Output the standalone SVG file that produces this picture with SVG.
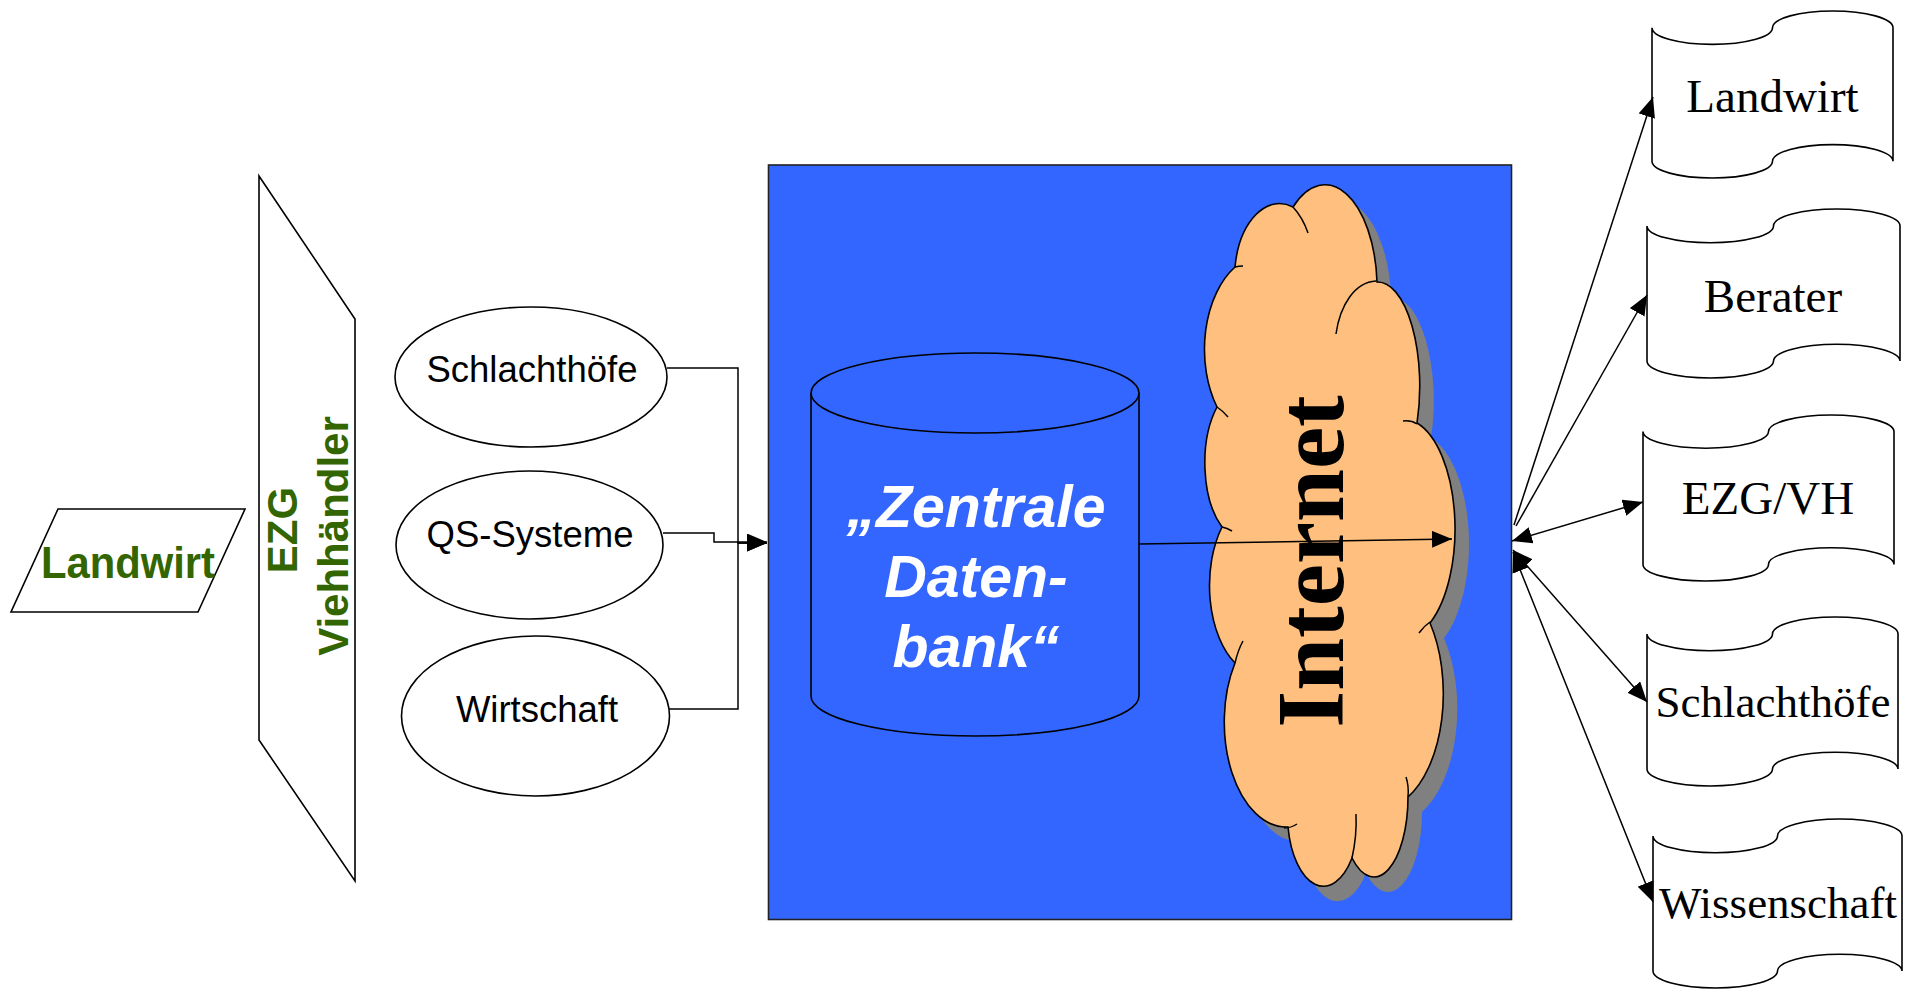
<svg xmlns="http://www.w3.org/2000/svg" width="1905" height="989" viewBox="0 0 1905 989">
<defs>
<style>
.ln{fill:none;stroke:#000;stroke-width:1.5}
.shape{fill:#fff;stroke:#000;stroke-width:1.6}
.green{font-family:"Liberation Sans",Arial,sans-serif;font-weight:bold;fill:#336600}
.sans{font-family:"Liberation Sans",Arial,sans-serif;font-size:36.5px;fill:#000;text-anchor:middle}
.serif{font-family:"Liberation Serif","Times New Roman",serif;fill:#000;text-anchor:middle}
.db{font-family:"Liberation Sans",Arial,sans-serif;font-weight:bold;font-style:italic;font-size:59px;fill:#fff;text-anchor:middle}
.hook{fill:none;stroke:#000;stroke-width:1.5}
</style>
<marker id="arr" markerUnits="userSpaceOnUse" viewBox="0 0 20 17" markerWidth="20" markerHeight="17" refX="20" refY="8.5" orient="auto-start-reverse">
<path d="M0,0 L20,8.5 L0,17 z" fill="#000"/>
</marker>
</defs>
<rect width="1905" height="989" fill="#fff"/>

<g id="node-landwirt">
<polygon class="shape" points="58,509 245,509 198,612 11,612"/>
<text class="green" x="128" y="578" font-size="44" text-anchor="middle" textLength="174" lengthAdjust="spacingAndGlyphs">Landwirt</text>
</g>

<g id="node-ezg">
<polygon class="shape" points="259,176 355,319 355,881 259,740"/>
<text class="green" transform="translate(297,530) rotate(-90)" font-size="42" text-anchor="middle">EZG</text>
<text class="green" transform="translate(348,536) rotate(-90)" font-size="42" text-anchor="middle">Viehhändler</text>
</g>

<g id="node-schlachthoefe-src">
<ellipse class="shape" cx="531" cy="377" rx="136" ry="70"/>
<text class="sans" x="532" y="382">Schlachthöfe</text>
</g>

<g id="node-qs">
<ellipse class="shape" cx="529.5" cy="545" rx="133.5" ry="74"/>
<text class="sans" x="530" y="547">QS-Systeme</text>
</g>

<g id="node-wirtschaft">
<ellipse class="shape" cx="535.5" cy="716" rx="134" ry="80"/>
<text class="sans" x="537" y="722">Wirtschaft</text>
</g>

<g id="node-plattform">
<rect x="768.5" y="165" width="743" height="754.5" fill="#3366FF" stroke="#222" stroke-width="1.6"/>
</g>

<g id="node-datenbank">
<path d="M811,393 L811,696 A164,40 0 0 0 1139,696 L1139,393" fill="#3366FF" stroke="#000" stroke-width="1.6"/>
<ellipse cx="975" cy="393" rx="164" ry="40" fill="#3366FF" stroke="#000" stroke-width="1.6"/>
<text class="db" x="976" y="527">„Zentrale</text>
<text class="db" x="976" y="597">Daten-</text>
<text class="db" x="976" y="667">bank“</text>
</g>

<g id="node-internet">
<path transform="translate(14,15)" fill="#808080" d="M1235,267 A45,75 0 0 1 1293,207 A52,104 0 0 1 1377,282 A42,104 0 0 1 1417,423 A52,110 0 0 1 1430,623 A63,115 0 0 1 1408,797 A34,80 0 0 1 1352,858 A36,72 0 0 1 1288,827 A62,105 0 0 1 1235,663 A52,90 0 0 1 1222,527 A40,78 0 0 1 1217,407 A61,95 0 0 1 1235,267 Z"/>
<path fill="#FFBF7F" stroke="#000" stroke-width="1.6" d="M1235,267 A45,75 0 0 1 1293,207 A52,104 0 0 1 1377,282 A42,104 0 0 1 1417,423 A52,110 0 0 1 1430,623 A63,115 0 0 1 1408,797 A34,80 0 0 1 1352,858 A36,72 0 0 1 1288,827 A62,105 0 0 1 1235,663 A52,90 0 0 1 1222,527 A40,78 0 0 1 1217,407 A61,95 0 0 1 1235,267 Z"/>
<path class="hook" d="M1293,207 Q1303,218 1308,233"/>
<path class="hook" d="M1336,334 C1340,305 1355,282 1376,281"/>
<path class="hook" d="M1403,421 Q1411,420 1417,424"/>
<path class="hook" d="M1419,633 Q1424,626 1430,622"/>
<path class="hook" d="M1408,797 Q1409,786 1406,777"/>
<path class="hook" d="M1352,858 Q1357,836 1356,814"/>
<path class="hook" d="M1284,828 Q1291,828 1297,824"/>
<path class="hook" d="M1235,663 Q1238,650 1243,641"/>
<path class="hook" d="M1222,527 Q1227,528 1232,531"/>
<path class="hook" d="M1217,407 Q1223,411 1228,417"/>
<path class="hook" d="M1235,267 Q1239,266 1243,266"/>
<text class="serif" transform="translate(1343,561.5) rotate(-90)" font-size="95" font-weight="bold">Internet</text>
</g>

<g id="node-doc-landwirt">
<path class="shape" d="M1652,27.7 A60.25,16.7 0 0 0 1772.5,27.7 A60.25,16.7 0 0 1 1893,27.7 L1893,161.3 A60.25,16.7 0 0 0 1772.5,161.3 A60.25,16.7 0 0 1 1652,161.3 Z"/>
<text class="serif" x="1772.5" y="112" font-size="47">Landwirt</text>
</g>
<g id="node-doc-berater">
<path class="shape" d="M1647,225.9 A63.25,16.9 0 0 0 1773.5,225.9 A63.25,16.9 0 0 1 1900,225.9 L1900,361.1 A63.25,16.9 0 0 0 1773.5,361.1 A63.25,16.9 0 0 1 1647,361.1 Z"/>
<text class="serif" x="1773" y="312" font-size="47">Berater</text>
</g>
<g id="node-doc-ezgvh">
<path class="shape" d="M1643,431.6 A62.75,16.6 0 0 0 1768.5,431.6 A62.75,16.6 0 0 1 1894,431.6 L1894,564.4 A62.75,16.6 0 0 0 1768.5,564.4 A62.75,16.6 0 0 1 1643,564.4 Z"/>
<text class="serif" x="1768" y="514" font-size="47">EZG/VH</text>
</g>
<g id="node-doc-schlachthoefe">
<path class="shape" d="M1647,633.9 A62.75,16.9 0 0 0 1772.5,633.9 A62.75,16.9 0 0 1 1898,633.9 L1898,769.1 A62.75,16.9 0 0 0 1772.5,769.1 A62.75,16.9 0 0 1 1647,769.1 Z"/>
<text class="serif" x="1773" y="717" font-size="45">Schlachthöfe</text>
</g>
<g id="node-doc-wissenschaft">
<path class="shape" d="M1653,835.9 A62.25,16.9 0 0 0 1777.5,835.9 A62.25,16.9 0 0 1 1902,835.9 L1902,971.1 A62.25,16.9 0 0 0 1777.5,971.1 A62.25,16.9 0 0 1 1653,971.1 Z"/>
<text class="serif" x="1778" y="918" font-size="45">Wissenschaft</text>
</g>

<g id="connectors">
<polyline class="ln" points="667,368 738,368 738,543 767,543" marker-end="url(#arr)"/>
<polyline class="ln" points="669,709 738,709 738,543 767,543" marker-end="url(#arr)"/>
<polyline class="ln" points="663,533 714,533 714,542 767,542" marker-end="url(#arr)"/>
<line class="ln" x1="1139" y1="544" x2="1452" y2="539" marker-end="url(#arr)"/>
<line class="ln" x1="1514" y1="525" x2="1653" y2="97" marker-end="url(#arr)"/>
<line class="ln" x1="1516" y1="526" x2="1647" y2="295" marker-end="url(#arr)"/>
<line class="ln" x1="1512" y1="541" x2="1643" y2="502" marker-start="url(#arr)" marker-end="url(#arr)"/>
<line class="ln" x1="1513" y1="550" x2="1647" y2="702" marker-start="url(#arr)" marker-end="url(#arr)"/>
<line class="ln" x1="1513" y1="552" x2="1653" y2="902" marker-start="url(#arr)" marker-end="url(#arr)"/>
</g>
</svg>
